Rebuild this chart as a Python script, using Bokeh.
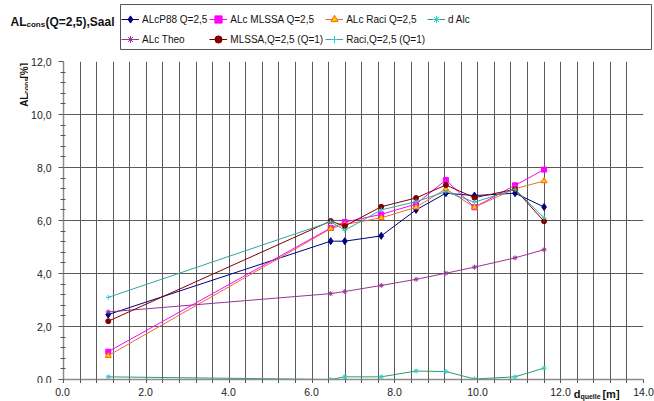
import math
from bokeh.plotting import figure
from bokeh.layouts import column, row
from bokeh.models import (Range1d, FixedTicker, CustomJSTickFormatter, Legend,
                          LegendItem, LinearAxis)
from bokeh.core.properties import value
from bokeh.embed import file_html
from bokeh.resources import INLINE

# ---- data ----
distance = [1.08, 6.45, 6.79, 7.67, 8.51, 9.23, 9.92, 10.90, 11.60]
alc_p88 = [2.45, 5.22, 5.22, 5.42, 6.40, 7.03, 6.94, 7.03, 6.51]
alc_mlssa = [1.05, 5.72, 5.94, 6.23, 6.62, 7.53, 6.50, 7.33, 7.92]
alc_raci = [0.90, 5.69, 5.85, 6.10, 6.50, 7.19, 6.50, 7.20, 7.49]
d_alc = [0.10, 0.00, 0.10, 0.10, 0.32, 0.30, 0.02, 0.10, 0.43]
alc_theo = [2.55, 3.24, 3.32, 3.55, 3.78, 4.01, 4.24, 4.59, 4.90]
mlssa_q1 = [2.20, 5.98, 5.79, 6.52, 6.85, 7.34, 6.86, 7.18, 5.97]
raci_q1 = [3.10, 5.95, 5.63, 6.40, 6.71, 7.09, 6.69, 7.18, 6.10]

series_labels = ["ALcP88 Q=2,5", "ALc MLSSA Q=2,5", "ALc Raci Q=2,5", "d Alc",
                 "ALc Theo", "MLSSA,Q=2,5 (Q=1)", "Raci,Q=2,5 (Q=1)"]
x_major = [0, 2, 4, 6, 8, 10, 12, 14]
y_major = [0, 2, 4, 6, 8, 10, 12]

FONT = "Liberation Sans"
W, H = 654, 401
HEAD_H = 50             # header strip (title + legend)
YS_W = 28               # strip holding the rotated y label
MAIN_W = W - YS_W
FRAME_W, FRAME_H = 581, 318
MB_L, MB_T, MB_B = 34, 11, 4
MB_R = MAIN_W - MB_L - FRAME_W
MAIN_H = MB_T + FRAME_H + MB_B
XS_H = H - HEAD_H - MAIN_H   # bottom strip: x tick labels + x title
PX_PER_X = FRAME_W / 14.0
FRAME_LEFT = YS_W + MB_L

styles = [
    ("#000080", "diamond", "#000080", "#000080", 7),
    ("#ff00ff", "square", "#ff00ff", "#ff00ff", 5),
    ("#e0703a", "triangle", "#ffcc00", "#ff6600", 6),
    ("#339966", "asterisk", "#33cccc", "#33cccc", 5),
    ("#993399", "asterisk", "#993399", "#993399", 5),
    ("#800000", "circle", "#800000", "#800000", 5),
    ("#33a3a3", "cross", "#33cccc", "#33cccc", 5),
]
series = [alc_p88, alc_mlssa, alc_raci, d_alc, alc_theo, mlssa_q1, raci_q1]


def blank(width, height, xr, yr):
    f = figure(width=width, height=height, output_backend="svg",
               toolbar_location=None, x_range=xr, y_range=yr,
               min_border_left=0, min_border_right=0,
               min_border_top=0, min_border_bottom=0)
    f.axis.visible = False
    f.grid.visible = False
    f.outline_line_color = None
    return f


def txt(f, x, y, s, size, angle=0.0, bold=True, color="#111111"):
    f.text(x=[x], y=[y], text=[s], text_font=value(FONT),
           text_font_size=f"{size}px",
           text_font_style="bold" if bold else "normal",
           text_color=color, text_baseline="alphabetic",
           text_align="left", angle=angle)


# ---------------- main chart ----------------
p = figure(width=MAIN_W, height=MAIN_H, output_backend="svg",
           toolbar_location=None, x_range=Range1d(0, 14), y_range=Range1d(0, 12),
           min_border_left=MB_L, min_border_right=MB_R, min_border_top=MB_T,
           min_border_bottom=MB_B)
p.outline_line_color = None

x_minor = [round(i * 0.4, 2) for i in range(36) if round(i * 0.4, 2) not in x_major]
y_minor = [round(i * 0.4, 2) for i in range(31) if round(i * 0.4, 2) not in y_major]
xt = FixedTicker(ticks=x_major, minor_ticks=x_minor)
yt = FixedTicker(ticks=y_major, minor_ticks=y_minor)
p.xaxis.ticker = xt
p.yaxis.ticker = yt
p.xgrid.ticker = xt
p.ygrid.ticker = yt

GRID = "#5a5a5a"
p.xgrid.grid_line_color = GRID
p.xgrid.minor_grid_line_color = GRID
p.ygrid.grid_line_color = GRID
p.ygrid.minor_grid_line_color = None

for ax in (p.xaxis, p.yaxis):
    ax.axis_line_color = "#8c8c8c"
    ax.axis_line_width = 1.5
    ax.major_tick_line_color = "#555555"
    ax.minor_tick_line_color = "#555555"
    ax.major_label_text_font = FONT
    ax.major_label_text_font_size = "10.5px"
    ax.major_label_text_color = "#222222"

# x axis of the chart: line and ticks here, its labels are in the bottom strip
p.xaxis.major_tick_in = 0
p.xaxis.major_tick_out = 4
p.xaxis.minor_tick_in = 0
p.xaxis.minor_tick_out = 4
p.xaxis.major_label_standoff = 0
p.xaxis.major_label_text_font_size = "0px"
p.xaxis.formatter = CustomJSTickFormatter(code="return '';")

p.yaxis.major_tick_in = 0
p.yaxis.major_tick_out = 5
p.yaxis.minor_tick_in = 2
p.yaxis.minor_tick_out = 3
p.yaxis.major_label_standoff = 7
p.yaxis.formatter = CustomJSTickFormatter(code="return tick.toFixed(1).replace('.', ',');")

for vals, (lc, mk, fc, mlc, sz) in zip(series, styles):
    p.line(distance, vals, line_color=lc, line_width=1)
    p.scatter(distance, vals, marker=mk, size=sz, fill_color=fc,
              line_color=mlc, line_width=1)

# ---------------- header: title + legend ----------------
# header y coordinate = -100 - (pixels from top): the series values lie outside it
head = blank(W, HEAD_H, Range1d(0, W), Range1d(-100 - HEAD_H, -100))


def hy(t):
    return -100 - t


head.quad(left=[120], right=[651], top=[hy(4)], bottom=[hy(49)],
          fill_color="white", line_color="#555555", line_width=1)

# title AL_cons(Q=2,5),Saal
txt(head, 10, hy(21), "AL", 12)
txt(head, 26, hy(24), "cons", 8)
txt(head, 45, hy(21), "(Q=2,5),Saal", 12)

items = []
for vals, lab, (lc, mk, fc, mlc, sz) in zip(series, series_labels, styles):
    r1 = head.line(distance, vals, line_color=lc, line_width=1)
    r2 = head.scatter(distance, vals, marker=mk, size=sz, fill_color=fc,
                      line_color=mlc, line_width=1)
    items.append(LegendItem(label=lab, renderers=[r1, r2]))

legend = Legend(items=items, ncols=4, orientation="horizontal",
                location=(121, 2))
legend.label_text_font = FONT
legend.label_text_font_size = "10px"
legend.label_text_color = "#111111"
legend.glyph_width = 18
legend.glyph_height = 18
legend.label_height = 18
legend.label_standoff = 3
legend.spacing = 2
legend.padding = 4
legend.margin = 0
legend.border_line_color = None
legend.background_fill_alpha = 0
head.add_layout(legend, "center")

# ---------------- left strip: rotated y label ----------------
ys = blank(YS_W, MAIN_H, Range1d(0, YS_W), Range1d(0, MAIN_H))
a = math.pi / 2
y0 = HEAD_H + MAIN_H - 97.5   # start of the label (page y 97.5)
txt(ys, 23.5, y0, "AL", 10, a)
txt(ys, 25.8, y0 + 13.4, "cons", 7, a)
txt(ys, 23.5, y0 + 29.7, " [%]", 10, a)

# ---------------- bottom strip: x tick labels + x title ----------------
xs = blank(W, XS_H, Range1d(-FRAME_LEFT / PX_PER_X, (W - FRAME_LEFT) / PX_PER_X),
           Range1d(0, XS_H))


def label_axis(ticks, formatter, size, standoff, bold):
    ax = LinearAxis(fixed_location=XS_H,
                    ticker=FixedTicker(ticks=ticks, minor_ticks=[]),
                    formatter=formatter)
    ax.axis_line_color = None
    ax.major_tick_line_color = None
    ax.minor_tick_line_color = None
    ax.major_tick_in = 0
    ax.major_tick_out = 0
    ax.minor_tick_in = 0
    ax.minor_tick_out = 0
    ax.major_label_standoff = standoff
    ax.major_label_text_font = FONT
    ax.major_label_text_font_size = f"{size}px"
    ax.major_label_text_font_style = "bold" if bold else "normal"
    ax.major_label_text_color = "#222222" if not bold else "#111111"
    xs.add_layout(ax, "below")


# tick labels 0.0 ... 14.0
label_axis(x_major, CustomJSTickFormatter(code="return tick.toFixed(1);"),
           10.5, 4, False)


def xpx(px):
    return (px - FRAME_LEFT) / PX_PER_X


# x title d_quelle [m] (subscript in a smaller font, set lower)
for piece, center_px, size, standoff in (("d", 576.5, 11, 4),
                                         ("quelle", 590.0, 7, 9),
                                         ("[m]", 610.5, 11, 4)):
    label_axis([xpx(center_px)],
               CustomJSTickFormatter(args=dict(t=piece), code="return t;"),
               size, standoff, True)

page = column(head, row(ys, p), xs)
open("out.html", "w").write(file_html(page, INLINE))
